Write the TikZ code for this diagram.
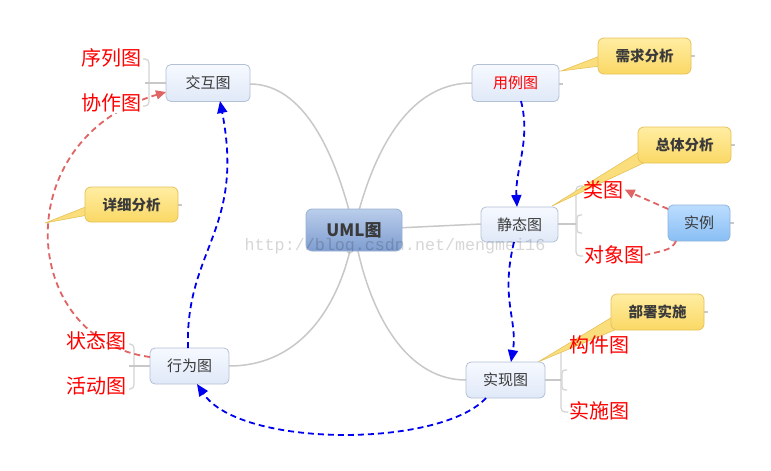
\documentclass[tikz,border=0pt]{standalone}
\usepackage{fontspec}
\setmainfont{Liberation Sans}
\newfontfamily\cjk{Noto Sans CJK SC}
\newfontfamily\wmfont{Liberation Mono}
\usetikzlibrary{arrows.meta}
\definecolor{branch}{HTML}{C8C8C8}
\definecolor{nodeborder}{HTML}{B4C0D4}
\definecolor{nodetop}{HTML}{F6F9FF}
\definecolor{nodebot}{HTML}{E0E9F8}
\definecolor{umltop}{HTML}{BACDEB}
\definecolor{umlbot}{HTML}{7E9DD0}
\definecolor{umlborder}{HTML}{9AB0D4}
\definecolor{insttop}{HTML}{BCDDFF}
\definecolor{instbot}{HTML}{88BEF4}
\definecolor{instborder}{HTML}{8FB4DC}
\definecolor{calltop}{HTML}{FFEDA2}
\definecolor{callbot}{HTML}{FAD865}
\definecolor{callborder}{HTML}{E6C25A}
\definecolor{pinkarrow}{HTML}{E06464}
\definecolor{bluearrow}{HTML}{0000F0}
\definecolor{textgray}{HTML}{3A3A3A}
\definecolor{labelred}{HTML}{FF0000}
\tikzset{
  topic/.style={draw=nodeborder, line width=0.8pt, rounded corners=5pt,
    top color=nodetop, bottom color=nodebot, minimum height=37pt,
    font=\cjk\fontsize{15}{18}\selectfont, text=textgray, inner sep=0pt},
  callout/.style={draw=callborder, line width=0.8pt, rounded corners=6pt,
    top color=calltop, bottom color=callbot, minimum width=93pt, minimum height=36pt,
    font=\cjk\bfseries\fontsize{14.5}{18}\selectfont, text=textgray, inner sep=0pt},
  pointer/.style={fill=callbot!85!white, draw=callborder, line width=0.6pt},
  branchline/.style={draw=branch, line width=1.5pt},
  bracketline/.style={draw=branch!80!white, line width=1.2pt, rounded corners=4pt},
  stub/.style={draw=branch, line width=1.2pt},
  sublabel/.style={font=\cjk\fontsize{20}{22}\selectfont, text=labelred, inner sep=1pt},
  bluedash/.style={draw=bluearrow, line width=1.8pt, dash pattern=on 6pt off 4pt,
    -{Triangle[length=12pt,width=10pt]}},
  pinkdash/.style={draw=pinkarrow, line width=1.8pt, dash pattern=on 6pt off 4pt},
  pinkarr/.style={pinkdash, -{Triangle[length=10pt,width=9pt]}}
}
\begin{document}
\begin{tikzpicture}[x=1pt,y=-1pt]
\useasboundingbox (0,0) rectangle (771,471);
\fill[white] (0,0) rectangle (771,471);

% central and main topics
\coordinate (c) at (354,230);
\coordinate (jhR) at (250,84);
\coordinate (ylL) at (472,83);
\coordinate (xwR) at (229,366);
\coordinate (sxL) at (466,380);
\coordinate (jtL) at (481,224);

% branch curves
\draw[branchline] (jhR) .. controls (310,84) and (340,170) .. (c);
\draw[branchline] (ylL) .. controls (400,83) and (368,170) .. (c);
\draw[branchline] (xwR) .. controls (310,366) and (345,290) .. (c);
\draw[branchline] (sxL) .. controls (400,380) and (365,300) .. (c);
\draw[branchline] (c) -- (jtL);

% brackets
\draw[bracketline] (143,59) -- (149,59) -- (149,106) -- (143,106);
\draw[stub] (145,83) -- (166,83);
\draw[bracketline] (129,344) -- (134,344) -- (134,389) -- (129,389);
\draw[stub] (129,366) -- (150,366);
\draw[bracketline] (583,186) -- (576,186) -- (576,256) -- (583,256);
\draw[bracketline, rounded corners=3pt] (582,215) -- (577,215) -- (577,233) -- (582,233);
\draw[stub] (558,224) -- (576,224);
\draw[bracketline] (568,347) -- (561,347) -- (561,412) -- (568,412);
\draw[bracketline, rounded corners=3pt] (567,370) -- (562,370) -- (562,390) -- (567,390);
\draw[stub] (545,380) -- (561,380);

% small stubs
\draw[stub] (559,84) -- (563,84);
\draw[stub] (691,56) -- (695,56);
\draw[stub] (731,145) -- (735,145);
\draw[stub] (178,205) -- (182,205);
\draw[stub] (704,312) -- (708,312);
\draw[stub] (730,223) -- (734,223);

% callout pointers
\filldraw[pointer] (600,56) -- (561,71) -- (600,66) -- cycle;
\filldraw[pointer] (642,150) -- (552,206) -- (650,160) -- cycle;
\filldraw[pointer] (88,206) -- (45,223) -- (88,215) -- cycle;
\filldraw[pointer] (614,316) -- (538,362) -- (622,327) -- cycle;

% nodes
\node[draw=umlborder, line width=0.8pt, rounded corners=6pt, top color=umltop, bottom color=umlbot,
  minimum width=96pt, minimum height=42pt, inner sep=0pt,
  font=\cjk\bfseries\fontsize{17}{20}\selectfont, text=textgray] (uml) at (c) {UML图};
\node[topic, minimum width=84pt] (jh) at (208,83) {交互图};
\node[topic, minimum width=87pt, text=labelred] (yl) at (515.5,83) {用例图};
\node[topic, minimum width=77pt, minimum height=35pt] (jt) at (519.5,224.5) {静态图};
\node[topic, minimum width=79pt, minimum height=36pt] (sx) at (505.5,380) {实现图};
\node[topic, minimum width=79pt, minimum height=36pt] (xw) at (189.5,366) {行为图};
\node[draw=instborder, line width=0.8pt, rounded corners=5pt, top color=insttop, bottom color=instbot,
  minimum width=62pt, minimum height=36pt, inner sep=0pt,
  font=\cjk\fontsize{15}{18}\selectfont, text=textgray] (sl) at (699,223) {实例};

% callouts
\node[callout] (xq) at (644.5,56) {需求分析};
\node[callout] (zt) at (684.5,145) {总体分析};
\node[callout, minimum height=35pt] (xx) at (131.5,204.5) {详细分析};
\node[callout] (bs) at (657.5,312) {部署实施};

% sub labels
\coordinate (sl1) at (668,209);
\coordinate (sl2) at (676,241);
\node[sublabel] (lt) at (603.5,189.5) {类图};
\node[sublabel] (dx) at (614,255) {对象图};

% dashed relations
\draw[bluedash] (521,101) .. controls (531,140) and (515,170) .. (517,207);
\draw[bluedash] (514,242) .. controls (500,300) and (518,320) .. (511,362);
\draw[bluedash] (486,398) .. controls (440,448) and (240,448) .. (197,384);
\draw[bluedash] (188,348) .. controls (185,250) and (245,230) .. (220,101);
\draw[pinkarr] (150,357) .. controls (20,340) and (5,140) .. (166,92);
\draw[pinkarr] (sl1) .. controls (650,202) .. (lt.east);
\draw[pinkdash] (sl2) .. controls (672,251) and (660,251) .. (dx.east);

\node[sublabel] (xl) at (111,58) {序列图};
\node[sublabel, fill=white] (xz) at (111,102.5) {协作图};
\node[sublabel] (zh) at (96,341) {状态图};
\node[sublabel] (hd) at (96,386) {活动图};
\node[sublabel] (gj) at (599,345) {构件图};
\node[sublabel] (ss) at (599,410.5) {实施图};

% watermark
\node[text=black, opacity=0.16, font=\wmfont\fontsize{16.7}{20}\selectfont, inner sep=0pt] (wm)
  at (395,246) {http://blog.csdn.net/mengmei16};
\end{tikzpicture}
\end{document}
